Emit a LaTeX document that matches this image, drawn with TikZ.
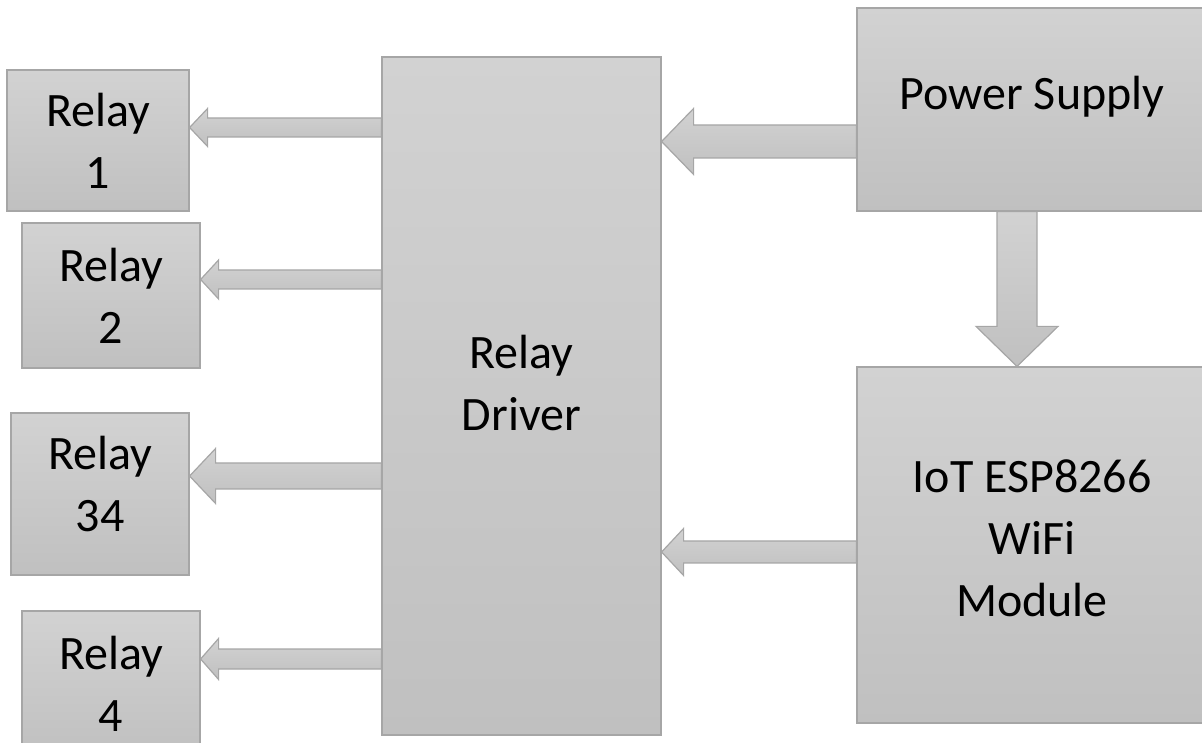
\documentclass[tikz,border=0pt]{standalone}
\usepackage{fontspec}
\setmainfont{Carlito}
\usepackage{tikz}
\usetikzlibrary{positioning, calc}
\definecolor{boxtop}{RGB}{210, 210, 210}
\definecolor{boxbot}{RGB}{192, 192, 192}
\definecolor{boxedge}{RGB}{166, 166, 166}

% block arrow: tail, tip, shaft half-width, head half-width, head length
\newcommand{\fatarrow}[5]{%
  \path ($(#2)!#5!(#1)$) coordinate (fabase);
  \draw[fatarrow] ($(#1)!#3!90:(#2)$) -- ($(fabase)!#3!90:(#2)$) -- ($(fabase)!#4!90:(#2)$)
    -- (#2) -- ($(fabase)!#4!-90:(#2)$) -- ($(fabase)!#3!-90:(#2)$) -- ($(#1)!#3!-90:(#2)$) -- cycle;
}

\begin{document}
\begin{tikzpicture}[x=1pt, y=1pt,
  blockbox/.style={draw=boxedge, line width=1.2pt, top color=boxtop, bottom color=boxbot, align=center, inner sep=0pt, font=\fontsize{48}{62}\selectfont},
  fatarrow/.style={draw=boxedge, line width=1.2pt, top color=boxtop, bottom color=boxbot}
]
  \useasboundingbox (0,0) rectangle (1202,742);
  \clip (0,0) rectangle (1202,742);

  % relays
  \node[blockbox, minimum width=182pt, minimum height=141pt] (r1) at (98, 601.5) {Relay\\1};
  \node[blockbox, minimum width=178pt, minimum height=145pt] (r2) at (111, 446.5) {Relay\\2};
  \node[blockbox, minimum width=178pt, minimum height=162pt, text depth=20pt] (r34) at (100, 248) {Relay\\34};
  \node[blockbox, minimum width=178pt, minimum height=145pt] (r4) at (111, 58.5) {Relay\\4};

  % driver, supply and module
  \node[blockbox, minimum width=279pt, minimum height=678pt, text depth=27pt] (drv) at (521.5, 346) {Relay\\Driver};
  \node[blockbox, minimum width=350pt, minimum height=203pt, text height=32pt, text depth=32pt] (ps) at (1032, 632.5) {Power Supply};
  \node[blockbox, minimum width=350pt, minimum height=356pt, text depth=14pt] (iot) at (1032, 197) {IoT ESP8266\\WiFi\\Module};

  % arrow ends
  \coordinate (a1) at ($(r1.east)+(0,13)$);
  \coordinate (a2) at ($(r2.east)+(0,16)$);
  \coordinate (a3) at ($(r34.east)+(0,18)$);
  \coordinate (a4) at ($(r4.east)+(0,24.5)$);
  \coordinate (p1) at ($(ps.west)+(0,-32)$);
  \coordinate (p2) at ($(ps.south)+(-15,0)$);
  \coordinate (m1) at ($(iot.west)+(0,-7)$);
  \coordinate (d1) at (drv.west |- a1);
  \coordinate (d2) at (drv.west |- a2);
  \coordinate (d3) at (drv.west |- a3);
  \coordinate (d4) at (drv.west |- a4);
  \coordinate (d5) at (drv.east |- p1);
  \coordinate (d6) at (drv.east |- m1);
  \coordinate (i1) at (iot.north -| p2);

  \fatarrow{d1}{a1}{9.5pt}{19pt}{18pt}
  \fatarrow{d2}{a2}{9.5pt}{19.5pt}{18pt}
  \fatarrow{d3}{a3}{13pt}{27.5pt}{26pt}
  \fatarrow{d4}{a4}{10pt}{20.5pt}{18pt}
  \fatarrow{p1}{d5}{16.5pt}{33pt}{32pt}
  \fatarrow{p2}{i1}{20pt}{41pt}{40pt}
  \fatarrow{m1}{d6}{11pt}{23.5pt}{22pt}
\end{tikzpicture}
\end{document}
